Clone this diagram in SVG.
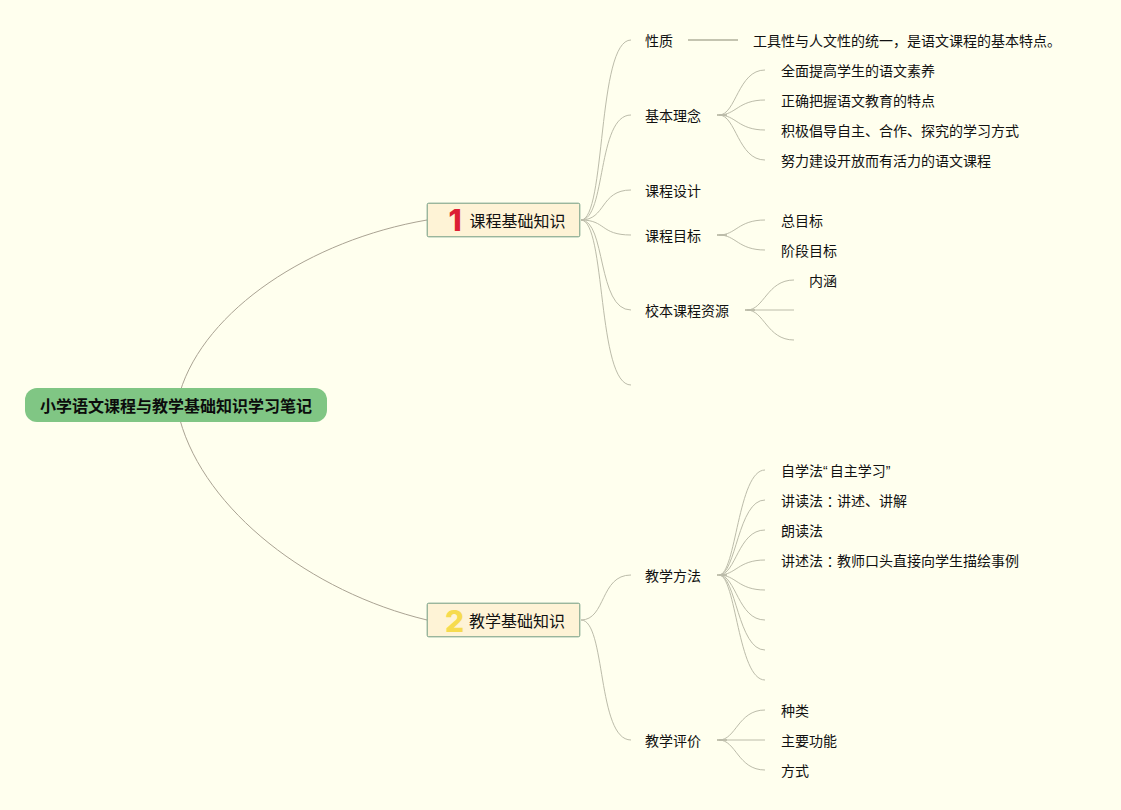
<svg xmlns="http://www.w3.org/2000/svg" width="1121" height="810" viewBox="0 0 1121 810">
<style>
text{font-family:"Liberation Sans","Noto Sans CJK SC",sans-serif;font-size:14px;fill:#111;dominant-baseline:central}
.tc{font-family:"Noto Sans CJK TC",sans-serif}
.t{font-size:16px;fill:#111}
.r{font-size:16px;font-weight:700;fill:#0c0c0c}
.box{fill:#fef3d6;stroke:#6f9a80;stroke-width:1}
.c{fill:none;stroke:#bcbcaa;stroke-width:1}
.m{fill:none;stroke:#aaa393;stroke-width:1}
.s{fill:none;stroke:#c4c4b0;stroke-width:2}
.n{font-family:"Inter","Liberation Sans",sans-serif;font-size:30px;font-weight:800;text-anchor:middle}
</style>
<rect width="1121" height="810" fill="#ffffee"/>
<g id="connectors">
<path class="m" d="M180 392C205 310 310 240 427 220"/>
<path class="m" d="M180 420C205 510 310 592 427 620"/>
<path class="c" d="M581 220C606 220 597 40 631 40"/>
<path class="c" d="M581 220C606 220 597 115 631 115"/>
<path class="c" d="M581 220C606 220 600 190 631 190"/>
<path class="c" d="M581 220C606 220 600 235 631 235"/>
<path class="c" d="M581 220C606 220 597 310 631 310"/>
<path class="c" d="M581 220C606 220 597 385 631 385"/>
<path class="c" d="M581 620C606 620 600 575 631 575"/>
<path class="c" d="M581 620C606 620 597 740 631 740"/>
<path class="s" d="M688 40H738"/>
<path class="s" d="M717 115H727"/>
<path class="c" d="M719 115C736 115 738 70 765 70"/>
<path class="c" d="M719 115C736 115 738 100 765 100"/>
<path class="c" d="M719 115C736 115 738 130 765 130"/>
<path class="c" d="M719 115C736 115 738 160 765 160"/>
<path class="s" d="M717 235H727"/>
<path class="c" d="M719 235C736 235 738 220 765 220"/>
<path class="c" d="M719 235C736 235 738 250 765 250"/>
<path class="s" d="M745 310H755"/>
<path class="c" d="M747 310C764 310 767 280 794 280"/>
<path class="c" d="M747 310H794"/>
<path class="c" d="M747 310C764 310 767 340 794 340"/>
<path class="s" d="M717 575H727"/>
<path class="c" d="M719 575C736 575 738 470 765 470"/>
<path class="c" d="M719 575C736 575 738 500 765 500"/>
<path class="c" d="M719 575C736 575 738 530 765 530"/>
<path class="c" d="M719 575C736 575 738 560 765 560"/>
<path class="c" d="M719 575C736 575 738 590 765 590"/>
<path class="c" d="M719 575C736 575 738 620 765 620"/>
<path class="c" d="M719 575C736 575 738 650 765 650"/>
<path class="c" d="M719 575C736 575 738 680 765 680"/>
<path class="s" d="M717 740H727"/>
<path class="c" d="M719 740C736 740 738 710 765 710"/>
<path class="c" d="M719 740H765"/>
<path class="c" d="M719 740C736 740 738 770 765 770"/>
</g>
<g id="root"><rect x="25" y="388" width="302" height="34" rx="12" fill="#80c684"/><text class="r" x="40" y="406">小学语文课程与教学基础知识学习笔记</text></g>
<g id="topic1"><rect class="box" x="427.200" y="203.200" width="152.600" height="33.600" rx="1.500"/><text class="n" x="455" y="220" style="fill:#dc1f35">1</text><text class="t" x="469.500" y="221.500">课程基础知识</text></g>
<g id="topic2"><rect class="box" x="427.200" y="603.200" width="152.600" height="33.600" rx="1.500"/><text class="n" x="454.500" y="621" style="fill:#f6db4f">2</text><text class="t" x="469" y="621.500">教学基础知识</text></g>
<g id="n1"><text x="645" y="41">性质</text></g>
<g id="n1a"><text x="753" y="41">工具性与人文性的统一，是语文课程的基本特点。</text></g>
<g id="n2"><text x="645" y="116">基本理念</text></g>
<g id="n2a"><text x="781" y="71">全面提高学生的语文素养</text></g>
<g id="n2b"><text x="781" y="101">正确把握语文教育的特点</text></g>
<g id="n2c"><text x="781" y="131">积极倡导自主、合作、探究的学习方式</text></g>
<g id="n2d"><text x="781" y="161">努力建设开放而有活力的语文课程</text></g>
<g id="n3"><text x="645" y="191">课程设计</text></g>
<g id="n4"><text x="645" y="236">课程目标</text></g>
<g id="n4a"><text x="781" y="221">总目标</text></g>
<g id="n4b"><text x="781" y="251">阶段目标</text></g>
<g id="n5"><text x="645" y="311">校本课程资源</text></g>
<g id="n5a"><text x="809" y="281">内涵</text></g>
<g id="n6"><text x="645" y="576">教学方法</text></g>
<g id="n6a"><text x="781" y="471">自学法“<tspan dx="2">自主学习</tspan>”</text></g>
<g id="n6b"><text x="781" y="501">讲读法<tspan class="tc">：</tspan>讲述、讲解</text></g>
<g id="n6c"><text x="781" y="531">朗读法</text></g>
<g id="n6d"><text x="781" y="561">讲述法<tspan class="tc">：</tspan>教师口头直接向学生描绘事例</text></g>
<g id="n7"><text x="645" y="741">教学评价</text></g>
<g id="n7a"><text x="781" y="711">种类</text></g>
<g id="n7b"><text x="781" y="741">主要功能</text></g>
<g id="n7c"><text x="781" y="771">方式</text></g>
</svg>
